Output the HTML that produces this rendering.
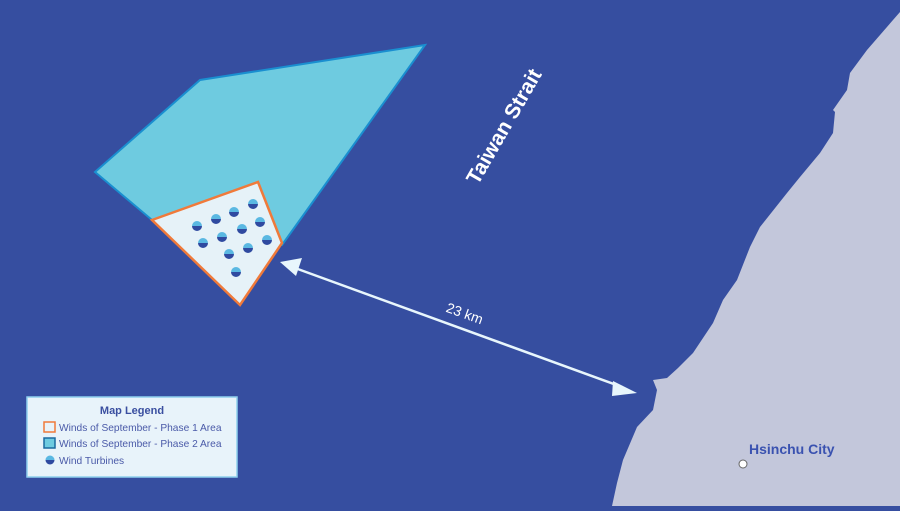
<!DOCTYPE html>
<html><head><style>
html,body{margin:0;padding:0;}
body{width:900px;height:506px;overflow:hidden;background:#364ea0;font-family:"Liberation Sans",sans-serif;}
</style></head><body>
<svg width="900" height="506" viewBox="0 0 900 506" xmlns="http://www.w3.org/2000/svg">
<rect width="900" height="506" fill="#364ea0"/>
<path d="M900,12 L893,20 L867,50 L850,73 L847,90 L833,110 L835,112 L833,133 L820,153 L800,177 L787,193 L760,227 L750,247 L737,280 L723,300 L713,323 L693,353 L678,368 L667,378 L653,380 L657,390 L653,410 L637,427 L623,460 L617,483 L612,506 L900,506 Z" fill="#c3c7db"/>
<polygon points="95,172 200,80 425,45 282,245 152,220" fill="#6ecbe0" stroke="#1a8fd0" stroke-width="2"/>
<polygon points="152,220 258,182 282,243 240,305" fill="#e6f2f8" stroke="#f07a3a" stroke-width="2.5"/>
<defs>
<linearGradient id="t" x1="0" y1="0" x2="0" y2="1">
<stop offset="0.5" stop-color="#5ab8e2"/><stop offset="0.5" stop-color="#2f4aa0"/>
</linearGradient>
</defs>
<g fill="url(#t)">
<circle cx="197" cy="226" r="5"/><circle cx="216" cy="219" r="5"/><circle cx="234" cy="212" r="5"/><circle cx="253" cy="204" r="5"/>
<circle cx="203" cy="243" r="5"/><circle cx="222" cy="237" r="5"/><circle cx="242" cy="229" r="5"/><circle cx="260" cy="222" r="5"/>
<circle cx="229" cy="254" r="5"/><circle cx="248" cy="248" r="5"/><circle cx="267" cy="240" r="5"/><circle cx="236" cy="272" r="5"/>
</g>
<line x1="295" y1="268" x2="622" y2="387" stroke="#e8f6fc" stroke-width="2.5"/>
<polygon points="280,262 302,258 296,276" fill="#e8f6fc"/>
<polygon points="637,393 613,381 612,396" fill="#e8f6fc"/>
<text x="463" y="318" transform="rotate(20 463 318)" fill="#fff" font-size="14" text-anchor="middle">23 km</text>
<text x="510" y="130" transform="rotate(-60 510 130)" fill="#fff" font-size="21" font-weight="bold" text-anchor="middle">Taiwan Strait</text>
<text x="749" y="454" fill="#3a52b0" font-size="14" font-weight="bold">Hsinchu City</text>
<circle cx="743" cy="464" r="4" fill="#fff" stroke="#666" stroke-width="1"/>
<rect x="27" y="397" width="210" height="80" fill="#e8f3fa" stroke="#8fd0ee" stroke-width="1.5"/>
<text x="132" y="414" fill="#3a4fa0" font-size="11" font-weight="bold" text-anchor="middle">Map Legend</text>
<rect x="44" y="422" width="11" height="10" fill="#e8f3fa" stroke="#f07a3a" stroke-width="1.5"/>
<text x="59" y="431" fill="#4a5aa8" font-size="10.2">Winds of September - Phase 1 Area</text>
<rect x="44" y="438" width="11" height="10" fill="#6ecbe0" stroke="#1a6aa0" stroke-width="1.5"/>
<text x="59" y="447" fill="#4a5aa8" font-size="10.2">Winds of September - Phase 2 Area</text>
<circle cx="50" cy="460" r="4.5" fill="url(#t)"/>
<text x="59" y="464" fill="#4a5aa8" font-size="10.2">Wind Turbines</text>
</svg>
</body></html>
